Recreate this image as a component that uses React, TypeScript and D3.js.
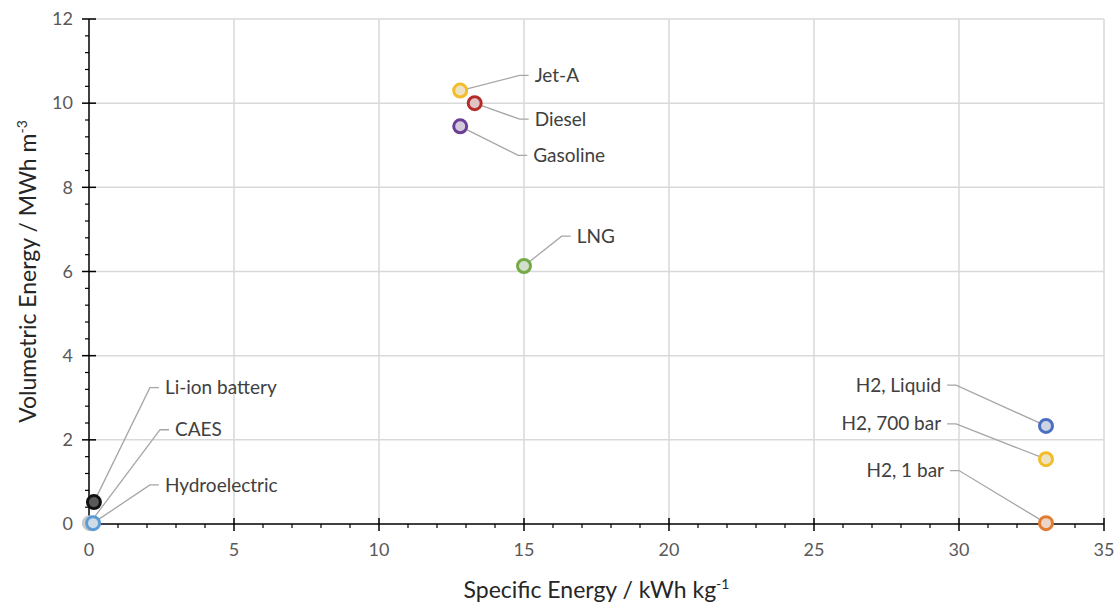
import React from 'react'
import * as d3 from 'd3'

// energy carriers
const names = ['CAES', 'Hydroelectric', 'Li-ion battery', 'Jet-A', 'Diesel', 'Gasoline', 'LNG', 'H2, Liquid', 'H2, 700 bar', 'H2, 1 bar']
const specificEnergy = [0.03, 0.14, 0.17, 12.8, 13.3, 12.8, 15.0, 33.0, 33.0, 33.0]
const volumetricEnergy = [0.02, 0.02, 0.52, 10.3, 10.0, 9.45, 6.13, 2.33, 1.54, 0.02]
// leader elbow points for the labels (data units) and side
const labelX = [2.45, 2.1, 2.1, 14.85, 14.85, 14.8, 16.3, 29.9, 29.9, 30.0]
const labelY = [2.24, 0.93, 3.24, 10.66, 9.62, 8.76, 6.84, 3.3, 2.38, 1.27]
const labelSide = [1, 1, 1, 1, 1, 1, 1, -1, -1, -1]
const colors = ['#c9c9c9', '#5b9bd5', '#111111', '#f2bd26', '#b52a2a', '#6b3f98', '#74ab48', '#4a6fc0', '#f2bd26', '#e07b30']

const xTicks = [0, 5, 10, 15, 20, 25, 30, 35]
const yTicks = [0, 2, 4, 6, 8, 10, 12]

const W = 1117
const H = 603

const App = () => {
  const x = d3.scaleLinear().domain([0, 35]).range([89, 1104])
  const y = d3.scaleLinear().domain([0, 12]).range([524, 19])

  const xMinor = d3.range(0, 35.01, 1).filter(v => v % 5 !== 0)
  const yMinor = d3.range(0, 12.01, 0.4).filter(v => Math.abs(v / 2 - Math.round(v / 2)) > 0.01)

  const font = 'Lato, "Open Sans", sans-serif'
  const x0 = x(0)
  const y0 = y(0)

  return (
    <svg width={W} height={H} style={{ position: 'absolute', left: 0, top: 0, background: '#fff' }} fontFamily={font}>
      {/* grid */}
      {xTicks.filter(t => t > 0).map(t => (
        <line key={'gx' + t} x1={x(t)} x2={x(t)} y1={y(12)} y2={y0} stroke="#d9d9d9" strokeWidth={1.5} />
      ))}
      {yTicks.filter(t => t > 0).map(t => (
        <line key={'gy' + t} x1={x0} x2={x(35)} y1={y(t)} y2={y(t)} stroke="#d9d9d9" strokeWidth={1.5} />
      ))}

      {/* axes */}
      <line x1={x0} x2={x(35)} y1={y0} y2={y0} stroke="#000" strokeWidth={1.5} />
      <line x1={x0} x2={x0} y1={y(12)} y2={y0} stroke="#000" strokeWidth={1.5} />
      {xTicks.map(t => (
        <line key={'xt' + t} x1={x(t)} x2={x(t)} y1={y0 - 6} y2={y0 + 7} stroke="#000" strokeWidth={1.5} />
      ))}
      {xMinor.map(t => (
        <line key={'xm' + t} x1={x(t)} x2={x(t)} y1={y0} y2={y0 + 4} stroke="#000" strokeWidth={1.2} />
      ))}
      {yTicks.map(t => (
        <line key={'yt' + t} x1={x0 - 7} x2={x0 + 7} y1={y(t)} y2={y(t)} stroke="#000" strokeWidth={1.5} />
      ))}
      {yMinor.map(t => (
        <line key={'ym' + t} x1={x0 - 4} x2={x0} y1={y(t)} y2={y(t)} stroke="#000" strokeWidth={1.2} />
      ))}

      {/* tick labels */}
      {xTicks.map(t => (
        <text key={'xl' + t} x={x(t)} y={y0 + 32} textAnchor="middle" fontSize={18} fill="#595959">{t}</text>
      ))}
      {yTicks.map(t => (
        <text key={'yl' + t} x={x0 - 16} y={y(t)} dy="0.35em" textAnchor="end" fontSize={18} fill="#595959">{t}</text>
      ))}

      {/* axis titles */}
      <text x={(x0 + x(35)) / 2} y={598} textAnchor="middle" fontSize={23} fill="#262626">
        Specific Energy / kWh kg<tspan dy={-9} fontSize={14}>-1</tspan>
      </text>
      <text transform={`translate(36, ${(y(0) + y(12)) / 2}) rotate(-90)`} textAnchor="middle" fontSize={23} fill="#262626">
        Volumetric Energy / MWh m<tspan dy={-9} fontSize={14}>-3</tspan>
      </text>

      {/* leader lines */}
      {names.map((n, i) => {
        const px = x(specificEnergy[i])
        const py = y(volumetricEnergy[i])
        const ex = x(labelX[i])
        const ey = y(labelY[i])
        const s = labelSide[i]
        return (
          <path key={'ll' + n} d={`M${px},${py}L${ex},${ey}L${ex + s * 9},${ey}`} fill="none" stroke="#a6a6a6" strokeWidth={1.3} />
        )
      })}

      {/* markers */}
      {names.map((n, i) => (
        <circle
          key={'pt' + n}
          cx={x(specificEnergy[i])}
          cy={y(volumetricEnergy[i])}
          r={6.5}
          fill={i === 2 ? '#595959' : d3.interpolateRgb(colors[i], '#ececec')(0.8)}
          stroke={colors[i]}
          strokeWidth={3}
        />
      ))}

      {/* labels */}
      {names.map((n, i) => {
        const s = labelSide[i]
        return (
          <text key={'lb' + n} x={x(labelX[i]) + s * 15} y={y(labelY[i])} dy="0.35em"
            textAnchor={s > 0 ? 'start' : 'end'} fontSize={19} fill="#404040">{n}</text>
        )
      })}
    </svg>
  )
}

export default App
